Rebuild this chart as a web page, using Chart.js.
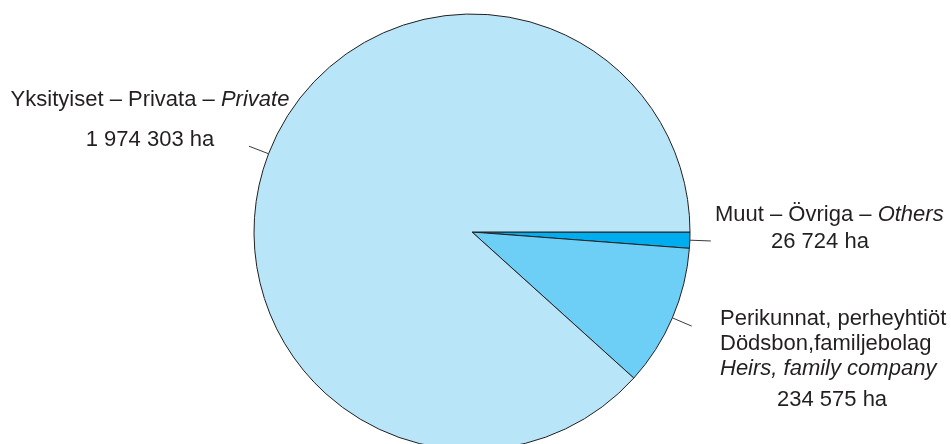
<!DOCTYPE html>
<html>
<head>
<meta charset="utf-8">
<script src="https://cdn.jsdelivr.net/npm/chart.js@4"></script>
<style>
  html, body { margin: 0; padding: 0; background: #fff; overflow: hidden; }
  #wrap { position: absolute; left: 0; top: 0; width: 951px; height: 464px; }
</style>
</head>
<body>
<div id="wrap"><canvas id="ownersChart"></canvas></div>
<script>
// order follows the pie clockwise from 3 o'clock
const categories = ['Muut – Övriga – Others', 'Perikunnat, perheyhtiöt', 'Yksityiset – Privata – Private'];
const hectares = [26724, 234575, 1974303];
const valueLabels = ['26 724 ha', '234 575 ha', '1 974 303 ha'];
const sliceColors = ['#00aeef', '#6dcff6', '#b9e5f9'];

// label text; each line is a list of [text, italic] pieces
const labelLines = [
    [
        { parts: [['Muut – Övriga – ', false], ['Others', true]], x: 715, y: 221, align: 'left' },
        { parts: [[valueLabels[0], false]], x: 771, y: 248, align: 'left' }
    ],
    [
        { parts: [['Perikunnat, perheyhtiöt', false]], x: 720, y: 325, align: 'left' },
        { parts: [['Dödsbon,familjebolag', false]], x: 720, y: 350, align: 'left' },
        { parts: [['Heirs, family company', true]], x: 720, y: 375, align: 'left' },
        { parts: [[valueLabels[1], false]], x: 777, y: 406, align: 'left' }
    ],
    [
        { parts: [['Yksityiset – Privata – ', false], ['Private', true]], x: 150, y: 106, align: 'center' },
        { parts: [[valueLabels[2], false]], x: 150, y: 146, align: 'center' }
    ]
];

const FONT = '22px "Liberation Sans", Arial, sans-serif';
const FONT_I = 'italic 22px "Liberation Sans", Arial, sans-serif';
const INK = '#231f20';

const outsideLabels = {
    id: 'outsideLabels',
    afterDraw(chart) {
        const ctx = chart.ctx;
        const arcs = chart.getDatasetMeta(0).data;
        ctx.save();
        // leader lines at each slice's middle angle
        ctx.strokeStyle = '#3a3a3a';
        ctx.lineWidth = 1;
        arcs.forEach(arc => {
            const mid = (arc.startAngle + arc.endAngle) / 2;
            const r0 = arc.outerRadius;
            const r1 = arc.outerRadius + 21;
            ctx.beginPath();
            ctx.moveTo(arc.x + Math.cos(mid) * r0, arc.y + Math.sin(mid) * r0);
            ctx.lineTo(arc.x + Math.cos(mid) * r1, arc.y + Math.sin(mid) * r1);
            ctx.stroke();
        });
        // texts
        ctx.fillStyle = INK;
        ctx.textBaseline = 'alphabetic';
        ctx.textAlign = 'left';
        labelLines.forEach(lines => {
            lines.forEach(line => {
                let total = 0;
                line.parts.forEach(p => {
                    ctx.font = p[1] ? FONT_I : FONT;
                    total += ctx.measureText(p[0]).width;
                });
                let x = line.align === 'center' ? line.x - total / 2 : line.x;
                line.parts.forEach(p => {
                    ctx.font = p[1] ? FONT_I : FONT;
                    ctx.fillText(p[0], x, line.y);
                    x += ctx.measureText(p[0]).width;
                });
            });
        });
        ctx.restore();
    }
};

const ctx = document.getElementById('ownersChart').getContext('2d');
const ownersChart = new Chart(ctx, {
    type: 'pie',
    data: {
        labels: categories,
        datasets: [{
            data: hectares,
            backgroundColor: sliceColors,
            borderColor: '#231f20',
            borderWidth: 1,
            radius: 218
        }]
    },
    options: {
        responsive: true,
        maintainAspectRatio: false,
        animation: false,
        rotation: 90,
        // keep the pie centre at x 472 while the canvas spans the full width
        layout: { padding: { left: 0, right: 7, top: 0, bottom: 0 } },
        plugins: {
            legend: { display: false },
            tooltip: { enabled: false }
        }
    },
    plugins: [outsideLabels]
});
</script>
</body>
</html>
